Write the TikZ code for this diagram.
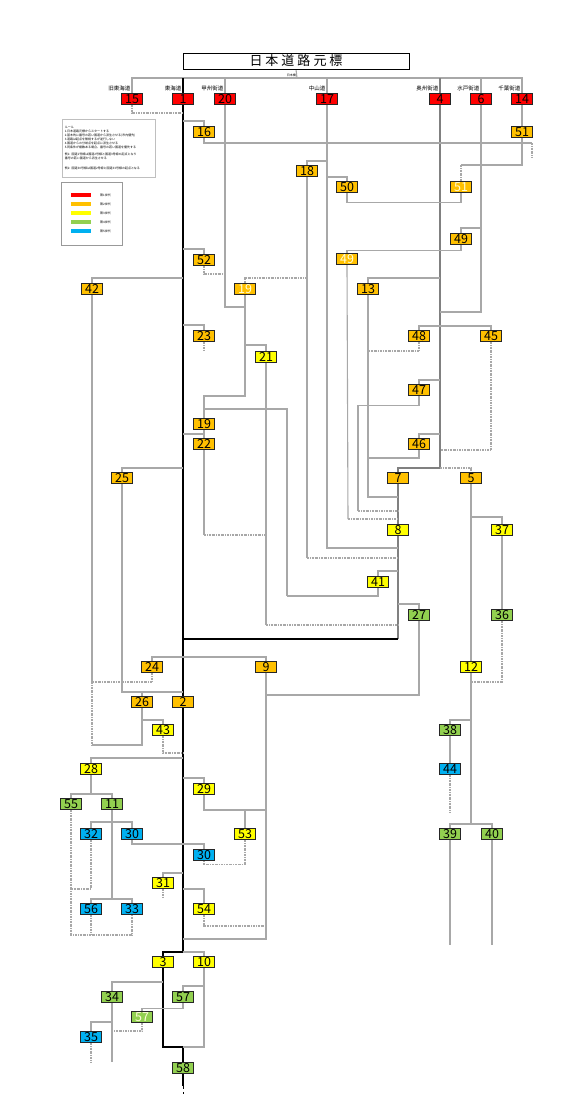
\documentclass[tikz,border=0pt]{standalone}
\usepackage{fontspec}
\setmainfont{Noto Sans CJK JP}
\usetikzlibrary{backgrounds}

\definecolor{gena}{HTML}{FF0000}
\definecolor{genb}{HTML}{FFC000}
\definecolor{genc}{HTML}{FFFF00}
\definecolor{gend}{HTML}{92D050}
\definecolor{gene}{HTML}{00B0F0}
\definecolor{linegray}{HTML}{A8A8A8}
\definecolor{routegray}{HTML}{808080}

\tikzset{
  rt/.style={draw=black!85, line width=0.7pt, minimum width=21pt, minimum height=11.5pt,
    inner sep=0pt, text height=8.8pt, text depth=0pt, font=\fontsize{12.5}{12.5}\selectfont},
  g1/.style={rt, fill=gena},
  g2/.style={rt, fill=genb},
  g3/.style={rt, fill=genc},
  g4/.style={rt, fill=gend},
  g5/.style={rt, fill=gene},
  ghost/.style={text=white!85!yellow},
  main/.style={draw=black, line width=1.2pt},
  major/.style={draw=routegray, line width=2pt},
  minor/.style={draw=linegray, line width=1.1pt},
  minordash/.style={minor, dash pattern=on 2pt off 1pt on 0.6pt off 1pt},
  rname/.style={font=\fontsize{5.5}{5.5}\selectfont, anchor=south east, inner sep=0.5pt},
  tiny/.style={font=\fontsize{3}{4}\selectfont, inner sep=0pt},
}

\begin{document}
\begin{tikzpicture}[x=1pt,y=-1pt]
  \useasboundingbox (0,0) rectangle (586,1120);

  % title and notes
  \node[draw=black, line width=0.8pt, minimum width=226pt, minimum height=16pt, inner sep=0pt,
    font=\fontsize{13}{13}\selectfont] (title) at (296,61)
    {日\hspace{3pt}本\hspace{3pt}道\hspace{3pt}路\hspace{3pt}元\hspace{3pt}標};
  \node[draw=black!25, line width=0.5pt, anchor=north west, minimum width=93pt, minimum height=58pt,
    text width=88pt, inner sep=2pt, align=left, font=\fontsize{3}{4}\selectfont] (rules) at (62,119)
    {ルール\\
     1.日本道路元標からスタートする\\
     2.基本的に番号の若い国道から派生させる(市内優先)\\
     3.道路は起点を無視するが逆行しない\\
     4.国道からの分岐点を起点に派生させる\\
     5.同条件が複数ある場合、番号の若い国道を優先する\\[3pt]
     例1: 国道1号線は国道2号線と国道3号線の起点となり\\
     番号の若い国道から派生させる\\[6pt]
     例2: 国道30号線は国道2号線と国道33号線の起点となる};
  \node[draw=black!40, line width=1pt, anchor=north west, minimum width=61pt, minimum height=63pt] (legend) at (61,182) {};
  \foreach \c [count=\i] in {gena,genb,genc,gend,gene} {
    \fill[\c] (71,{184+9*\i}) rectangle (91,{188+9*\i});
    \node[tiny, anchor=west] at (100,{186+9*\i}) {第\i 世代};
  }

  % first generation
  \node[g1] (n15) at (132,99) {15};
  \node[g1] (n1) at (183,99) {1};
  \node[g1] (n20) at (225,99) {20};
  \node[g1] (n17) at (327,99) {17};
  \node[g1] (n4) at (440,99) {4};
  \node[g1] (n6) at (481,99) {6};
  \node[g1] (n14) at (522,99) {14};
  \node[rname] at (131,92) {旧東海道};
  \node[rname] at (182,92) {東海道};
  \node[rname] at (224,92) {甲州街道};
  \node[rname] at (326,92) {中山道};
  \node[rname] at (439,92) {奥州街道};
  \node[rname] at (480,92) {水戸街道};
  \node[rname] at (521,92) {千葉街道};

  % second generation
  \node[g2] (n16) at (204,132) {16};
  \node[g2] (n51) at (522,132) {51};
  \node[g2] (n18) at (307,171) {18};
  \node[g2] (n50) at (347,187) {50};
  \node[g2, ghost] (n51b) at (461,187) {51};
  \node[g2] (n49) at (461,239) {49};
  \node[g2, ghost] (n49b) at (347,259) {49};
  \node[g2] (n52) at (204,260) {52};
  \node[g2] (n42) at (92,289) {42};
  \node[g2, ghost] (n19b) at (245,289) {19};
  \node[g2] (n13) at (368,289) {13};
  \node[g2] (n23) at (204,336) {23};
  \node[g2] (n48) at (419,336) {48};
  \node[g2] (n45) at (491,336) {45};
  \node[g2] (n47) at (419,390) {47};
  \node[g2] (n19) at (204,424) {19};
  \node[g2] (n22) at (204,444) {22};
  \node[g2] (n46) at (419,444) {46};
  \node[g2] (n25) at (122,478) {25};
  \node[g2] (n7) at (398,478) {7};
  \node[g2] (n5) at (471,478) {5};
  \node[g2] (n24) at (152,667) {24};
  \node[g2] (n9) at (266,667) {9};
  \node[g2] (n26) at (142,702) {26};
  \node[g2] (n2) at (183,702) {2};

  % third generation
  \node[g3] (n21) at (266,357) {21};
  \node[g3] (n8) at (398,530) {8};
  \node[g3] (n37) at (502,530) {37};
  \node[g3] (n41) at (378,582) {41};
  \node[g3] (n12) at (471,667) {12};
  \node[g3] (n43) at (163,730) {43};
  \node[g3] (n28) at (91,769) {28};
  \node[g3] (n29) at (204,789) {29};
  \node[g3] (n53) at (245,834) {53};
  \node[g3] (n31) at (163,883) {31};
  \node[g3] (n54) at (204,909) {54};
  \node[g3] (n3) at (163,962) {3};
  \node[g3] (n10) at (204,962) {10};

  % fourth generation
  \node[g4] (n27) at (419,615) {27};
  \node[g4] (n36) at (502,615) {36};
  \node[g4] (n38) at (450,730) {38};
  \node[g4] (n55) at (71,804) {55};
  \node[g4] (n11) at (112,804) {11};
  \node[g4] (n39) at (450,834) {39};
  \node[g4] (n40) at (492,834) {40};
  \node[g4] (n34) at (112,997) {34};
  \node[g4] (n57) at (183,997) {57};
  \node[g4, ghost] (n57b) at (142,1017) {57};
  \node[g4] (n58) at (183,1068) {58};

  % fifth generation
  \node[g5] (n44) at (450,769) {44};
  \node[g5] (n32) at (91,834) {32};
  \node[g5] (n30) at (132,834) {30};
  \node[g5] (n30b) at (204,855) {30};
  \node[g5] (n56) at (91,909) {56};
  \node[g5] (n33) at (132,909) {33};
  \node[g5] (n35) at (91,1037) {35};

  \begin{scope}[on background layer]
    % start
    \coordinate (hub) at (297,78);
    \node[tiny, anchor=south east] at (296,76.5) {日本橋};
    \draw[minor] (title.south) -- (hub);
    \draw[minor] (n15.north) |- (hub) -| (n14.north);
    \draw[main] (n1.north) -- (n1.north |- hub);
    \draw[major] (n4.north) -- (n4.north |- hub);
    \draw[minor] (n20.north) -- (n20.north |- hub);
    \draw[minor] (n17.north) -- (n17.north |- hub);
    \draw[minor] (n6.north) -- (n6.north |- hub);

    % main lines
    \coordinate (m3) at (183,952);
    \coordinate (m58) at (183,1047);
    \draw[main] (n1.south) -- (n2.north);
    \draw[main] (n2.south) -- (m3) -| (n3.north);
    \draw[minor] (m3) -| (n10.north);
    \draw[main] (n3.south) |- (m58) -- (n58.north);
    \draw[minor] (n10.south) |- (m58);
    \coordinate (e58) at (183,1086);
    \coordinate (f58) at (183,1094);
    \draw[main] (n58.south) -- (e58);
    \draw[main, dashed, line width=0.6pt] (e58) -- (f58);

    \coordinate (m7) at (440,468);
    \coordinate (k8) at (398,639);
    \coordinate (m8) at (183,639);
    \draw[major] (n4.south) -- (m7) -| (n7.north);
    \draw[major] (n7.south) -- (n8.north);
    \draw[major] (n8.south) -- (k8);
    \draw[main] (k8) -- (m8);
    \draw[minordash] (m7) -| (n5.north);

    % from 15, 16, 14
    \coordinate (c15) at (183,113);
    \draw[minordash] (n15.south) |- (c15);
    \coordinate (c16) at (183,121);
    \coordinate (c16b) at (532,143);
    \coordinate (e16) at (532,158);
    \draw[minor] (c16) -| (n16.north);
    \draw[minor] (n16.south) |- (c16b);
    \draw[minordash] (c16b) -- (e16);
    \coordinate (c51) at (461,165);
    \draw[minor] (n14.south) -- (n51.north);
    \draw[minor] (n51.south) |- (c51);
    \draw[minordash] (c51) -- (n51b.north);

    % from 17
    \coordinate (k17) at (398,548);
    \coordinate (c18) at (327,161);
    \coordinate (c50) at (327,177);
    \coordinate (b18) at (307,558);
    \coordinate (k18) at (398,558);
    \draw[minor] (n17.south) |- (k17);
    \draw[minor] (c18) -| (n18.north);
    \draw[minor] (n18.south) -- (b18);
    \draw[minordash] (b18) -- (k18);
    \draw[minor] (c50) -| (n50.north);
    \draw[minor] (n50.south) -- ++(0,9) -| (n51b.south);

    % from 6 and 4
    \coordinate (c6) at (440,312);
    \draw[minor] (n6.south) |- (c6);
    \coordinate (c49) at (482,228);
    \coordinate (b49) at (348,519);
    \coordinate (k49) at (398,519);
    \draw[minor] (c49) -| (n49.north);
    \draw[minor] (n49.south) -- ++(0,5) -| (n49b.north);
    \draw[minor] (n49b.south) -- (b49);
    \draw[minordash] (b49) -- (k49);
    \coordinate (c13) at (440,278);
    \coordinate (k13) at (398,497);
    \draw[minor] (c13) -| (n13.north);
    \draw[minor] (n13.south) |- (k13);
    \coordinate (c48) at (440,326);
    \coordinate (k48) at (368,351);
    \coordinate (k45) at (440,450);
    \draw[minor] (n48.north) |- (c48) -| (n45.north);
    \draw[minordash] (n48.south) |- (k48);
    \draw[minordash] (n45.south) |- (k45);
    \coordinate (c47) at (440,380);
    \coordinate (b47) at (358,511);
    \coordinate (k47) at (398,511);
    \draw[minor] (c47) -| (n47.north);
    \draw[minor] (n47.south) -- ++(0,9) -| (b47);
    \draw[minordash] (b47) -- (k47);
    \coordinate (c46) at (440,434);
    \coordinate (k46) at (368,458);
    \draw[minor] (c46) -| (n46.north);
    \draw[minor] (n46.south) |- (k46);

    % from 20
    \coordinate (j20) at (245,307);
    \coordinate (j19) at (204,396);
    \coordinate (c19b) at (307,278);
    \draw[minor] (n20.south) |- (j20);
    \draw[minordash] (n19b.north) |- (c19b);
    \draw[minor] (n19b.south) |- (j19) -- (n19.north);
    \coordinate (c21) at (245,345);
    \coordinate (b21) at (266,625);
    \coordinate (k21) at (398,625);
    \draw[minor] (c21) -| (n21.north);
    \draw[minor] (n21.south) -- (b21);
    \draw[minordash] (b21) -- (k21);
    \coordinate (j19r) at (204,409);
    \coordinate (k19) at (287,596);
    \draw[minor] (j19r) -| (k19);
    \draw[minor] (n41.south) |- (k19);
    \coordinate (c41) at (398,571);
    \coordinate (c27) at (398,604);
    \draw[minor] (c41) -| (n41.north);
    \draw[minor] (c27) -| (n27.north);

    % from 1, upper part
    \coordinate (c52) at (183,249);
    \coordinate (k52) at (225,274);
    \draw[minor] (c52) -| (n52.north);
    \draw[minordash] (n52.south) |- (k52);
    \coordinate (c42) at (183,278);
    \coordinate (b42) at (92,682);
    \coordinate (k26) at (92,745);
    \draw[minor] (c42) -| (n42.north);
    \draw[minor] (n42.south) -- (b42);
    \draw[minordash] (b42) -- (k26);
    \coordinate (c23) at (183,325);
    \coordinate (e23) at (204,351);
    \draw[minor] (c23) -| (n23.north);
    \draw[minordash] (n23.south) -- (e23);
    \coordinate (c22) at (183,434);
    \coordinate (b22) at (204,535);
    \coordinate (k22) at (266,535);
    \draw[minor] (c22) -| (n22.north);
    \draw[minor] (n19.south) -- (n22.north);
    \draw[minor] (n22.south) -- (b22);
    \draw[minordash] (b22) -- (k22);
    \coordinate (c25) at (183,468);
    \coordinate (k25) at (183,692);
    \draw[minor] (c25) -| (n25.north);
    \draw[minor] (n25.south) |- (k25);
    \draw[minor] (n26.north) -- (n26.north |- k25);

    % from 1, lower part
    \coordinate (c24) at (183,657);
    \coordinate (b9) at (266,695);
    \coordinate (m9) at (183,939);
    \draw[minor] (n24.north) |- (c24) -| (n9.north);
    \draw[minordash] (n24.south) |- (b42);
    \draw[minor] (n9.south) |- (m9);
    \draw[minor] (b9) -| (n27.south);
    \draw[minor] (n26.south) |- (k26);
    \coordinate (c43) at (142,720);
    \coordinate (k43) at (183,753);
    \draw[minor] (c43) -| (n43.north);
    \draw[minordash] (n43.south) |- (k43);
    \coordinate (c28) at (183,758);
    \coordinate (c55) at (91,794);
    \draw[minor] (c28) -| (n28.north);
    \draw[minor] (n28.south) -- (c55);
    \draw[minor] (n55.north) |- (c55) -| (n11.north);
    \coordinate (c32) at (112,822);
    \coordinate (c56) at (112,899);
    \draw[minor] (n32.north) |- (c32) -| (n30.north);
    \draw[minor] (n11.south) -- (c56);
    \draw[minor] (n56.north) |- (c56) -| (n33.north);
    \coordinate (c30) at (183,844);
    \draw[minor] (n30.south) |- (c30) -| (n30b.north);
    \coordinate (k32) at (71,889);
    \coordinate (b55) at (71,935);
    \draw[minordash] (n32.south) |- (k32);
    \draw[minordash] (n55.south) -- (b55) -| (n33.south);
    \draw[minordash] (n56.south) -- (n56.south |- b55);
    \coordinate (c29) at (183,778);
    \coordinate (k29) at (266,810);
    \draw[minor] (c29) -| (n29.north);
    \draw[minor] (n29.south) |- (k29);
    \draw[minor] (n53.north) -- (n53.north |- k29);
    \draw[minordash] (n53.south) -- ++(0,24) -| (n30b.south);
    \coordinate (c31) at (183,873);
    \coordinate (e31) at (163,898);
    \draw[minor] (c31) -| (n31.north);
    \draw[minordash] (n31.south) -- (e31);
    \coordinate (c54) at (183,889);
    \coordinate (k54) at (266,926);
    \draw[minor] (c54) -| (n54.north);
    \draw[minordash] (n54.south) |- (k54);

    % from 3 and 10
    \coordinate (c34) at (163,982);
    \coordinate (e34) at (112,1062);
    \coordinate (c35) at (112,1022);
    \coordinate (e35) at (91,1062);
    \draw[minor] (c34) -| (n34.north);
    \draw[minor] (n34.south) -- (e34);
    \draw[minor] (c35) -| (n35.north);
    \draw[minordash] (n35.south) -- (e35);
    \coordinate (c57) at (204,986);
    \coordinate (k57) at (112,1031);
    \draw[minor] (c57) -| (n57.north);
    \draw[minor] (n57.south) -- ++(0,5) -| (n57b.north);
    \draw[minordash] (n57b.south) |- (k57);

    % from 5
    \coordinate (c37) at (471,517);
    \coordinate (k36) at (471,682);
    \coordinate (c38) at (471,720);
    \coordinate (c39) at (471,824);
    \coordinate (e44) at (450,812);
    \coordinate (e39) at (450,945);
    \coordinate (e40) at (492,945);
    \draw[minor] (n5.south) -- (n12.north);
    \draw[minor] (c37) -| (n37.north);
    \draw[minor] (n37.south) -- (n36.north);
    \draw[minordash] (n36.south) |- (k36);
    \draw[minor] (n12.south) -- (c39);
    \draw[minor] (c38) -| (n38.north);
    \draw[minor] (n38.south) -- (n44.north);
    \draw[minordash] (n44.south) -- (e44);
    \draw[minor] (n39.north) |- (c39) -| (n40.north);
    \draw[minor] (n39.south) -- (e39);
    \draw[minor] (n40.south) -- (e40);
  \end{scope}

\end{tikzpicture}
\end{document}
